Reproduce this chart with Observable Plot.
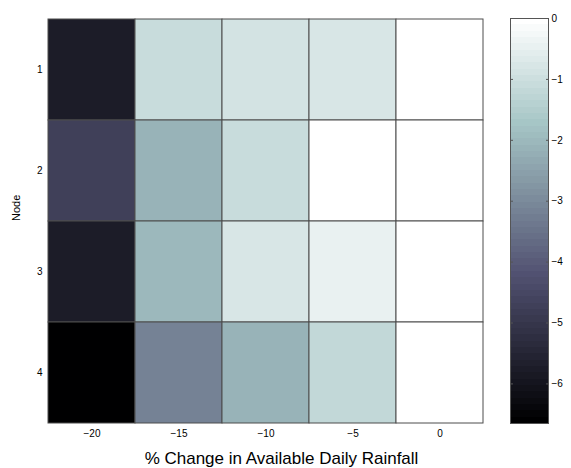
<!DOCTYPE html>
<html><head><meta charset="utf-8">
<script src="https://cdn.jsdelivr.net/npm/d3@7"></script>
<script src="https://cdn.jsdelivr.net/npm/@observablehq/plot@0.6"></script>
<style>
body{margin:0;background:#fff;}
#fig{display:flex;width:571px;height:468px;font-family:"Liberation Sans",Arial,sans-serif;background:#fff;}
</style></head><body><div id="fig"></div>
<script>
// ---- data ----
const columns = [-20, -15, -10, -5, 0];
const nodes = [1, 2, 3, 4];
const node1 = [-5.75, -1.09, -0.88, -0.78, 0];
const node2 = [-4.73, -2.13, -1.09, 0, 0];
const node3 = [-5.80, -2.03, -0.76, -0.50, 0];
const node4 = [-6.65, -3.17, -2.08, -1.20, 0];
const colorbarTicks = [0, -1, -2, -3, -4, -5, -6];
const colorMin = -6.65, colorMax = 0;
const xLabel = "% Change in Available Daily Rainfall";
const yLabel = "Node";

// ---- MATLAB bone(64) colormap ----
const N = 64;
function bone(i) {
  const g = i / (N - 1);
  const n = Math.floor(3 / 8 * N);
  const hr = i < n ? (i + 1) / n : 1;
  const hg = i < n ? 0 : i < 2 * n ? (i - n + 1) / n : 1;
  const hb = i < 2 * n ? 0 : (i - 2 * n + 1) / (N - 2 * n);
  const R = (7 * g + hb) / 8, G = (7 * g + hg) / 8, B = (7 * g + hr) / 8;
  return d3.rgb(R * 255, G * 255, B * 255).formatHex();
}
const palette = d3.range(N).map(bone);
const step = (colorMax - colorMin) / N;
const thresholds = d3.range(1, N).map(k => colorMin + k * step);
const colorScale = {type: "threshold", domain: thresholds, range: palette};

const series = [node1, node2, node3, node4];
const table = nodes.flatMap((n, r) => columns.map((c, j) => ({node: n, change: c, value: series[r][j]})));
const fmt = d => d < 0 ? "\u2212" + Math.abs(d) : String(d);
const font = '"Liberation Sans", Arial, sans-serif';

const main = Plot.plot({
  width: 500, height: 468,
  marginLeft: 46, marginRight: 16, marginTop: 18, marginBottom: 45,
  style: {fontFamily: font, fontSize: "10px", background: "white", color: "black"},
  x: {type: "band", domain: columns, padding: 0, label: null, axis: null},
  y: {type: "band", domain: nodes, padding: 0, label: null, axis: null},
  color: colorScale,
  marks: [
    Plot.cell(table, {x: "change", y: "node", fill: "value", stroke: "#4d4d4d", strokeWidth: 1, inset: 0}),
    Plot.axisX({tickSize: 0, tickPadding: 6, tickFormat: fmt, label: null, fontSize: 10}),
    Plot.axisY({tickSize: 0, tickPadding: 4, label: null, fontSize: 10}),
    Plot.text([xLabel], {text: d => d, frameAnchor: "bottom", dx: 16, dy: 40, lineAnchor: "bottom", fontSize: 17}),
    Plot.text([yLabel], {text: d => d, frameAnchor: "left", dx: -30, rotate: -90, fontSize: 11})
  ]
});

const bands = d3.range(N).map(k => ({y1: colorMin + k * step, y2: colorMin + (k + 1) * step, v: colorMin + (k + 0.5) * step}));
const bar = Plot.plot({
  width: 71, height: 468,
  marginLeft: 10, marginRight: 23, marginTop: 18, marginBottom: 45,
  style: {fontFamily: font, fontSize: "10px", background: "white", color: "black", overflow: "visible"},
  x: {domain: [0, 1], axis: null},
  y: {domain: [colorMin, colorMax], axis: null},
  color: colorScale,
  marks: [
    Plot.rect(bands, {x1: 0, x2: 1, y1: "y1", y2: "y2", fill: "v", inset: 0, shapeRendering: "crispEdges"}),
    Plot.frame({stroke: "#555"}),
    Plot.axisY(colorbarTicks, {anchor: "right", tickSize: -3, tickPadding: 6, tickFormat: fmt, stroke: "#555", fill: "black", label: null, fontSize: 10}),
    Plot.axisY(colorbarTicks, {anchor: "left", tickSize: -3, tickFormat: () => "", stroke: "#555", label: null})
  ]
});

const fig = document.getElementById("fig");
fig.appendChild(main);
fig.appendChild(bar);
</script>
</body></html>
